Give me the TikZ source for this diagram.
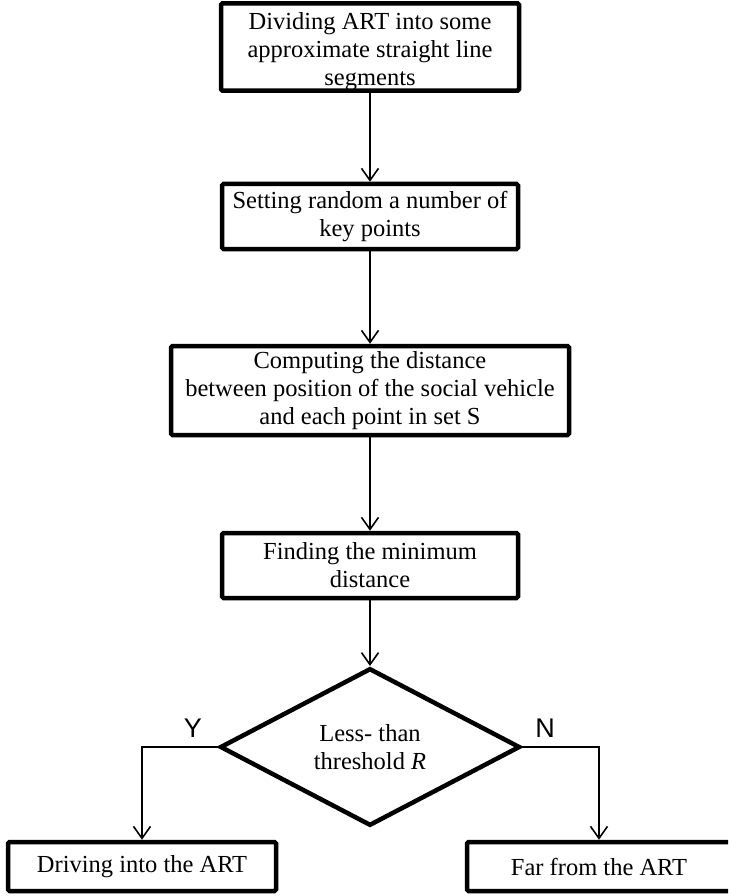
\documentclass[tikz,border=0pt]{standalone}
\usepackage{fontspec}
\setmainfont{Liberation Serif}
\newfontfamily\branchfont{Liberation Sans}
\usetikzlibrary{arrows.meta,shapes.geometric}
\begin{document}
\begin{tikzpicture}[x=1pt,y=-1pt,
  stepbox/.style={draw, line width=4.5pt, rounded corners=1.5pt, align=center,
    inner sep=0pt, font=\fontsize{24.5}{28}\selectfont},
  decision/.style={diamond, draw, line width=4.5pt, align=center, inner sep=0pt,
    minimum width=300pt, minimum height=138pt, font=\fontsize{24.5}{28}\selectfont},
  flow/.style={line width=1.6pt,
    -{Straight Barb[length=12pt,width=17pt,line width=1.6pt]}},
  branch/.style={font=\branchfont\fontsize{27}{30}\selectfont, inner sep=0pt}
]
\useasboundingbox (0,0) rectangle (728,896);
\clip (0,0) rectangle (728,896);

% main column
\node[stepbox, minimum width=298pt, minimum height=82pt] (b1) at (370,47)
  {\rule{0pt}{26pt}Dividing ART into some\\approximate straight line\\segments};
\node[stepbox, minimum width=296pt, minimum height=65pt] (b2) at (370,216.5)
  {Setting random a number of\\key points};
\node[stepbox, minimum width=398pt, minimum height=89pt] (b3) at (370,390.5)
  {Computing the distance\\between position of the social vehicle\\and each point in set S};
\node[stepbox, minimum width=296pt, minimum height=65pt] (b4) at (370,565.5)
  {Finding the minimum\\distance};
\node[decision] (dec) at (370,747) {Less- than\\threshold \textit{R}};

% outcomes
\node[stepbox, minimum width=268pt, minimum height=49pt] (yes) at (142,866.5)
  {Driving into the ART};
\node[stepbox, minimum width=264pt, minimum height=49pt] (no) at (599,866.5)
  {Far from the ART};

% branch labels
\node[branch] (ylab) at (193,728) {Y};
\node[branch] (nlab) at (545,728) {N};

% connectors
\draw[flow] (b1) -- (b2);
\draw[flow] (b2) -- (b3);
\draw[flow] (b3) -- (b4);
\draw[flow] (b4) -- (dec);
\draw[flow] (dec.west) -| (yes.north);
\draw[flow] (dec.east) -| (no.north);
\end{tikzpicture}
\end{document}
